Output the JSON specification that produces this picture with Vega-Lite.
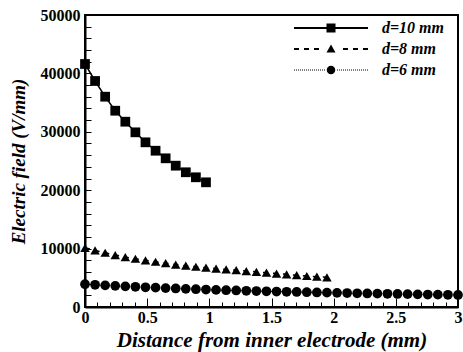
{
  "$schema": "https://vega.github.io/schema/vega-lite/v6.json",
  "width": 373,
  "height": 292,
  "autosize": "none",
  "padding": {"left": 85, "top": 15, "right": 5, "bottom": 45},
  "background": "white",
  "config": {
    "view": {"stroke": "black", "strokeWidth": 2},
    "axis": {"grid": false, "domainColor": "black", "domainWidth": 2, "tickColor": "black", "tickWidth": 1, "labelColor": "black", "titleColor": "black",
      "labelFont": "Liberation Serif", "labelFontWeight": "bold", "labelFontSize": 16, "titleFont": "Liberation Serif", "titleFontWeight": "bold", "titleFontStyle": "italic", "labelFlush": false, "labelOverlap": false, "labelBound": false}
  },
  "data": {"values": [
    {"series": "d=10 mm", "x": 0, "y": 41610},
    {"series": "d=10 mm", "x": 0.0811, "y": 38700},
    {"series": "d=10 mm", "x": 0.1622, "y": 36010},
    {"series": "d=10 mm", "x": 0.2432, "y": 33610},
    {"series": "d=10 mm", "x": 0.3243, "y": 31730},
    {"series": "d=10 mm", "x": 0.4054, "y": 29910},
    {"series": "d=10 mm", "x": 0.4865, "y": 28200},
    {"series": "d=10 mm", "x": 0.5676, "y": 26760},
    {"series": "d=10 mm", "x": 0.6486, "y": 25460},
    {"series": "d=10 mm", "x": 0.7297, "y": 24200},
    {"series": "d=10 mm", "x": 0.8108, "y": 23070},
    {"series": "d=10 mm", "x": 0.8919, "y": 22210},
    {"series": "d=10 mm", "x": 0.973, "y": 21350},
    {"series": "d=8 mm", "x": 0, "y": 10140},
    {"series": "d=8 mm", "x": 0.0811, "y": 9700},
    {"series": "d=8 mm", "x": 0.1622, "y": 9290},
    {"series": "d=8 mm", "x": 0.2432, "y": 8900},
    {"series": "d=8 mm", "x": 0.3243, "y": 8540},
    {"series": "d=8 mm", "x": 0.4054, "y": 8260},
    {"series": "d=8 mm", "x": 0.4865, "y": 8000},
    {"series": "d=8 mm", "x": 0.5676, "y": 7750},
    {"series": "d=8 mm", "x": 0.6486, "y": 7500},
    {"series": "d=8 mm", "x": 0.7297, "y": 7270},
    {"series": "d=8 mm", "x": 0.8108, "y": 7070},
    {"series": "d=8 mm", "x": 0.8919, "y": 6890},
    {"series": "d=8 mm", "x": 0.973, "y": 6730},
    {"series": "d=8 mm", "x": 1.0541, "y": 6570},
    {"series": "d=8 mm", "x": 1.1351, "y": 6440},
    {"series": "d=8 mm", "x": 1.2162, "y": 6300},
    {"series": "d=8 mm", "x": 1.2973, "y": 6160},
    {"series": "d=8 mm", "x": 1.3784, "y": 6010},
    {"series": "d=8 mm", "x": 1.4595, "y": 5870},
    {"series": "d=8 mm", "x": 1.5405, "y": 5720},
    {"series": "d=8 mm", "x": 1.6216, "y": 5590},
    {"series": "d=8 mm", "x": 1.7027, "y": 5440},
    {"series": "d=8 mm", "x": 1.7838, "y": 5310},
    {"series": "d=8 mm", "x": 1.8649, "y": 5190},
    {"series": "d=8 mm", "x": 1.9459, "y": 5080},
    {"series": "d=6 mm", "x": 0, "y": 3900},
    {"series": "d=6 mm", "x": 0.0811, "y": 3800},
    {"series": "d=6 mm", "x": 0.1622, "y": 3710},
    {"series": "d=6 mm", "x": 0.2432, "y": 3620},
    {"series": "d=6 mm", "x": 0.3243, "y": 3540},
    {"series": "d=6 mm", "x": 0.4054, "y": 3460},
    {"series": "d=6 mm", "x": 0.4865, "y": 3380},
    {"series": "d=6 mm", "x": 0.5676, "y": 3310},
    {"series": "d=6 mm", "x": 0.6486, "y": 3240},
    {"series": "d=6 mm", "x": 0.7297, "y": 3170},
    {"series": "d=6 mm", "x": 0.8108, "y": 3110},
    {"series": "d=6 mm", "x": 0.8919, "y": 3050},
    {"series": "d=6 mm", "x": 0.973, "y": 2990},
    {"series": "d=6 mm", "x": 1.0541, "y": 2930},
    {"series": "d=6 mm", "x": 1.1351, "y": 2880},
    {"series": "d=6 mm", "x": 1.2162, "y": 2830},
    {"series": "d=6 mm", "x": 1.2973, "y": 2780},
    {"series": "d=6 mm", "x": 1.3784, "y": 2730},
    {"series": "d=6 mm", "x": 1.4595, "y": 2690},
    {"series": "d=6 mm", "x": 1.5405, "y": 2650},
    {"series": "d=6 mm", "x": 1.6216, "y": 2610},
    {"series": "d=6 mm", "x": 1.7027, "y": 2570},
    {"series": "d=6 mm", "x": 1.7838, "y": 2530},
    {"series": "d=6 mm", "x": 1.8649, "y": 2490},
    {"series": "d=6 mm", "x": 1.9459, "y": 2460},
    {"series": "d=6 mm", "x": 2.027, "y": 2420},
    {"series": "d=6 mm", "x": 2.1081, "y": 2390},
    {"series": "d=6 mm", "x": 2.1892, "y": 2350},
    {"series": "d=6 mm", "x": 2.2703, "y": 2320},
    {"series": "d=6 mm", "x": 2.3514, "y": 2290},
    {"series": "d=6 mm", "x": 2.4324, "y": 2260},
    {"series": "d=6 mm", "x": 2.5135, "y": 2230},
    {"series": "d=6 mm", "x": 2.5946, "y": 2200},
    {"series": "d=6 mm", "x": 2.6757, "y": 2170},
    {"series": "d=6 mm", "x": 2.7568, "y": 2140},
    {"series": "d=6 mm", "x": 2.8378, "y": 2110},
    {"series": "d=6 mm", "x": 2.9189, "y": 2090},
    {"series": "d=6 mm", "x": 3.0, "y": 2060}
  ]},
  "encoding": {
    "x": {"field": "x", "type": "quantitative",
      "scale": {"domain": [0, 3], "nice": false, "zero": false},
      "axis": {"title": "Distance from inner electrode (mm)", "titleFontSize": 21, "titlePadding": 0,
        "values": [0,0.1,0.2,0.3,0.4,0.5,0.6,0.7,0.8,0.9,1,1.1,1.2,1.3,1.4,1.5,1.6,1.7,1.8,1.9,2,2.1,2.2,2.3,2.4,2.5,2.6,2.7,2.8,2.9,3],
        "format": "~g",
        "labelExpr": "abs(datum.value*2 - round(datum.value*2)) < 0.000001 ? datum.label : ''",
        "tickSize": {"condition": {"test": "abs(datum.value*2 - round(datum.value*2)) < 0.000001", "value": -9}, "value": -5},
        "labelPadding": 11}},
    "y": {"field": "y", "type": "quantitative",
      "scale": {"domain": [0, 50000], "nice": false},
      "axis": {"title": "Electric field (V/mm)", "titleFontSize": 19, "titlePadding": 12,
        "values": [0,2000,4000,6000,8000,10000,12000,14000,16000,18000,20000,22000,24000,26000,28000,30000,32000,34000,36000,38000,40000,42000,44000,46000,48000,50000],
        "format": "d",
        "labelExpr": "datum.value % 10000 === 0 ? datum.label : ''",
        "tickSize": -6,
        "labelPadding": 11}}
  },
  "layer": [
    {"transform": [{"filter": "datum.series === 'd=10 mm'"}],
     "mark": {"type": "line", "color": "black", "strokeWidth": 1.5}, "encoding": {}},
    {"transform": [{"filter": "datum.series === 'd=8 mm'"}],
     "mark": {"type": "line", "color": "black", "strokeWidth": 1.5, "strokeDash": [5, 5]}, "encoding": {}},
    {"transform": [{"filter": "datum.series === 'd=6 mm'"}],
     "mark": {"type": "line", "color": "black", "strokeWidth": 1, "strokeDash": [1, 1]}, "encoding": {}},
    {"transform": [{"filter": "datum.series === 'd=10 mm'"}],
     "mark": {"type": "point", "shape": "square", "filled": true, "color": "black", "opacity": 1, "size": 95}},
    {"transform": [{"filter": "datum.series === 'd=8 mm'"}],
     "mark": {"type": "point", "shape": "triangle-up", "filled": true, "color": "black", "opacity": 1, "size": 90}},
    {"transform": [{"filter": "datum.series === 'd=6 mm'"}],
     "mark": {"type": "point", "shape": "circle", "filled": true, "color": "black", "opacity": 1, "size": 95}},
    {
      "mark": {"type": "point", "filled": true, "color": "black", "opacity": 0},
      "encoding": {
        "shape": {"field": "series", "type": "nominal",
          "scale": {"domain": ["d=10 mm", "d=8 mm", "d=6 mm"], "range": [
            "M-15.6,-0.2H-0.8V0.2H-15.6Z M-9.1,-0.9H-7.3V0.9H-9.1Z",
            "M-15.6,-0.2H-14.6V0.2H-15.6Z M-13.6,-0.2H-12.6V0.2H-13.6Z M-11.6,-0.2H-10.6V0.2H-11.6Z M-5.8,-0.2H-4.8V0.2H-5.8Z M-3.8,-0.2H-2.8V0.2H-3.8Z M-1.8,-0.2H-0.8V0.2H-1.8Z M-9.1,0.7L-8.2,-0.9L-7.3,0.7Z",
            "M-15.6,-0.1h0.2v0.2h-0.2Z M-15.2,-0.1h0.2v0.2h-0.2Z M-14.8,-0.1h0.2v0.2h-0.2Z M-14.4,-0.1h0.2v0.2h-0.2Z M-14,-0.1h0.2v0.2h-0.2Z M-13.6,-0.1h0.2v0.2h-0.2Z M-13.2,-0.1h0.2v0.2h-0.2Z M-12.8,-0.1h0.2v0.2h-0.2Z M-12.4,-0.1h0.2v0.2h-0.2Z M-12,-0.1h0.2v0.2h-0.2Z M-11.6,-0.1h0.2v0.2h-0.2Z M-11.2,-0.1h0.2v0.2h-0.2Z M-10.8,-0.1h0.2v0.2h-0.2Z M-10.4,-0.1h0.2v0.2h-0.2Z M-10,-0.1h0.2v0.2h-0.2Z M-9.6,-0.1h0.2v0.2h-0.2Z M-7,-0.1h0.2v0.2h-0.2Z M-6.6,-0.1h0.2v0.2h-0.2Z M-6.2,-0.1h0.2v0.2h-0.2Z M-5.8,-0.1h0.2v0.2h-0.2Z M-5.4,-0.1h0.2v0.2h-0.2Z M-5,-0.1h0.2v0.2h-0.2Z M-4.6,-0.1h0.2v0.2h-0.2Z M-4.2,-0.1h0.2v0.2h-0.2Z M-3.8,-0.1h0.2v0.2h-0.2Z M-3.4,-0.1h0.2v0.2h-0.2Z M-3,-0.1h0.2v0.2h-0.2Z M-2.6,-0.1h0.2v0.2h-0.2Z M-2.2,-0.1h0.2v0.2h-0.2Z M-1.8,-0.1h0.2v0.2h-0.2Z M-1.4,-0.1h0.2v0.2h-0.2Z M-1,-0.1h0.2v0.2h-0.2Z M-9.05,0A0.85,0.85 0 1,0 -7.35,0A0.85,0.85 0 1,0 -9.05,0Z"
          ]},
          "legend": {"title": null, "orient": "none", "legendX": 279, "legendY": 5, "padding": 0,
            "labelFont": "Liberation Serif", "labelFontWeight": "bold", "labelFontStyle": "italic", "labelFontSize": 16, "labelColor": "black",
            "symbolSize": 100, "labelOffset": 2, "rowPadding": 5, "symbolStrokeWidth": 0, "symbolFillColor": "black", "symbolOpacity": 1}
        }
      }
    }
  ]
}
